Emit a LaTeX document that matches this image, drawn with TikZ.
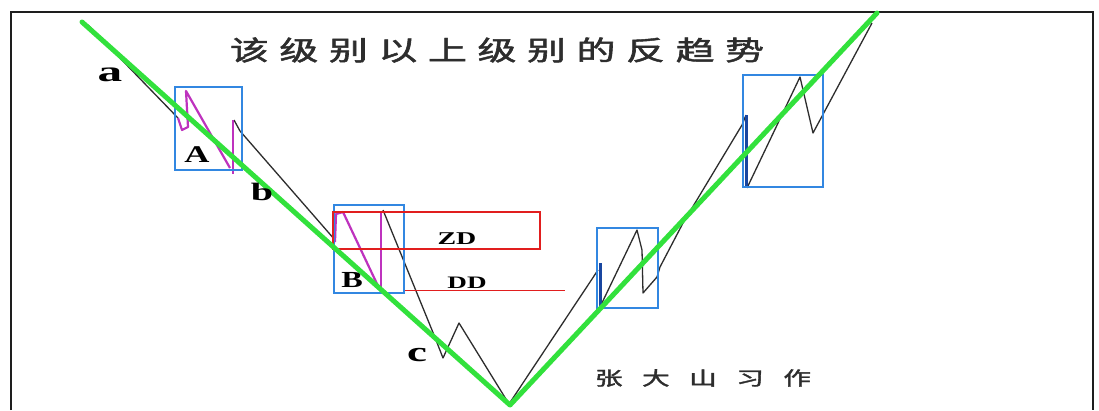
\documentclass[tikz,border=0pt]{standalone}
\usepackage{fontspec}
\setmainfont{Liberation Serif}
\newfontfamily\cjk[FakeBold=1.6]{Noto Sans CJK SC}
\definecolor{zigcol}{RGB}{45,45,45}
\definecolor{magline}{RGB}{190,50,190}
\definecolor{boxblue}{RGB}{50,135,225}
\definecolor{darkblue}{RGB}{25,70,160}
\definecolor{trendgreen}{RGB}{50,225,60}
\definecolor{zdred}{RGB}{225,30,30}
\definecolor{framecol}{RGB}{30,30,30}
\begin{document}
\begin{tikzpicture}[x=1pt,y=-1pt,
  zig/.style={draw=zigcol, line width=1.3pt, line join=round},
  mag/.style={draw=magline, line width=2.2pt, line join=round},
  bbox/.style={draw=boxblue, line width=1.8pt},
  thickblue/.style={draw=darkblue, line width=3pt},
  trend/.style={draw=trendgreen, line width=5pt, line cap=round, line join=round},
  redbox/.style={draw=zdred, line width=2.6pt},
  redline/.style={draw=zdred, line width=0.8pt},
  framel/.style={draw=framecol, line width=2.5pt},
  lbl/.style={font=\bfseries, inner sep=0pt, text=black}]
\useasboundingbox (0,0) rectangle (1099,410);
\fill[white] (0,0) rectangle (1099,410);
% frame
\draw[framel] (11,410) -- (11,12) -- (1093,12) -- (1093,410);
% black zigzag
\draw[zig] (88,25) -- (178,118);
\draw[zig] (234,120) -- (240,131) -- (335,240);
\draw[zig] (383,210) -- (434,335) -- (443,358) -- (459,323) -- (509,404) -- (598,270);
\draw[zig] (600,307) -- (637,230) -- (642,250) -- (643,293) -- (657,277) -- (660,267) -- (683,223) -- (742,125) -- (746,115);
\draw[zig] (747,188) -- (800,77) -- (813,133) -- (872,23);
% magenta
\draw[mag] (178,118) -- (182,130) -- (188,127) -- (186,91) -- (230,168);
\draw[mag] (233,120) -- (233,174);
\draw[mag] (335,242) -- (336,214) -- (343,212) -- (378,286);
\draw[mag] (381,211) -- (381,288);
% thick blue verticals
\draw[thickblue] (600,263) -- (600,307);
\draw[thickblue] (746,115) -- (746,188);
% blue boxes
\draw[bbox] (175,87) rectangle (242,170);
\draw[bbox] (334,205) rectangle (404,293);
\draw[bbox] (597,228) rectangle (658,308);
\draw[bbox] (743,75) rectangle (823,187);
% red
\draw[redbox] (333,212) rectangle (540,249);
\draw[redline] (405,290) -- (565,290);
% green trend
\draw[trend] (82,22) -- (510,405) -- (877,13);
% labels
\node[lbl] (la) at (110,75) {\scalebox{1.7}[1]{\fontsize{29}{29}\selectfont a}};
\node[lbl] (lb) at (262,192) {\scalebox{1.6}[1]{\fontsize{25}{25}\selectfont b}};
\node[lbl] (lA) at (197,155) {\scalebox{1.45}[1]{\fontsize{24}{24}\selectfont A}};
\node[lbl] (lB) at (352,280) {\scalebox{1.4}[1]{\fontsize{23}{23}\selectfont B}};
\node[lbl] (lc) at (417,355) {\scalebox{1.6}[1]{\fontsize{28}{28}\selectfont c}};
\node[lbl] (lzd) at (457,239) {\scalebox{1.55}[1]{\fontsize{18}{18}\selectfont ZD}};
\node[lbl] (ldd) at (467,283) {\scalebox{1.55}[1]{\fontsize{17.5}{17.5}\selectfont DD}};
\node[inner sep=0pt, text=zigcol] (title) at (497,50) {\scalebox{1.44}[1]{\cjk\fontsize{27}{27}\selectfont 该\hspace{7.4pt}级\hspace{7.4pt}别\hspace{7.4pt}以\hspace{7.4pt}上\hspace{7.4pt}级\hspace{7.4pt}别\hspace{7.4pt}的\hspace{7.4pt}反\hspace{7.4pt}趋\hspace{7.4pt}势}};
\node[inner sep=0pt, text=zigcol] (author) at (703,378) {\scalebox{1.45}[1]{\cjk\fontsize{19}{19}\selectfont 张\hspace{13.5pt}大\hspace{13.5pt}山\hspace{13.5pt}习\hspace{13.5pt}作}};
\end{tikzpicture}
\end{document}
